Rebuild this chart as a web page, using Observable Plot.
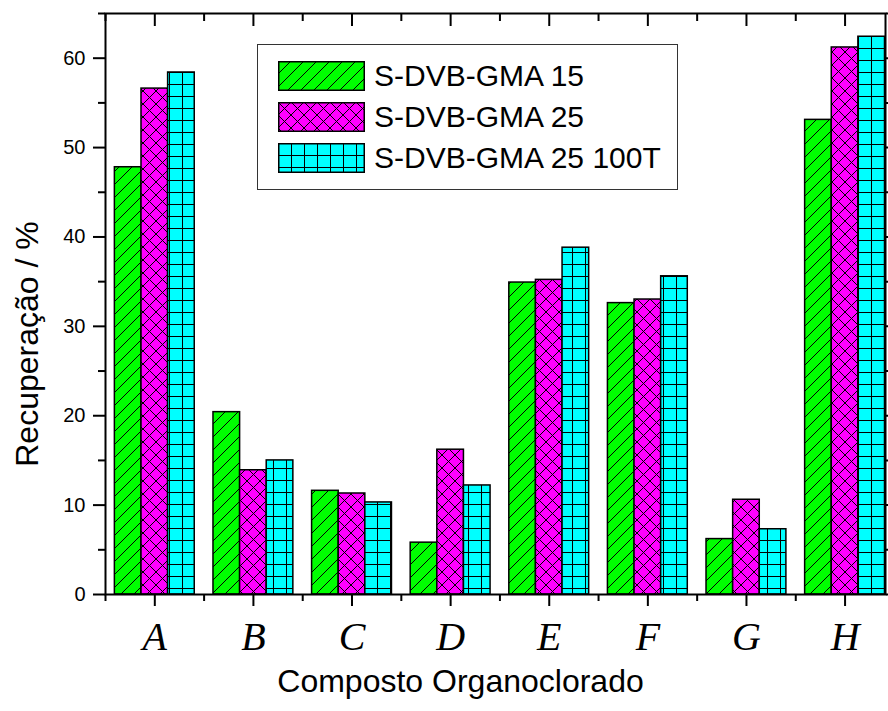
<!DOCTYPE html>
<html><head><meta charset="utf-8">
<script src="https://cdn.jsdelivr.net/npm/d3@7"></script>
<script src="https://cdn.jsdelivr.net/npm/@observablehq/plot@0.6"></script>
<style>
body{margin:0;background:#fff;overflow:hidden;}
#wrap{position:relative;width:888px;height:711px;overflow:hidden;}
#legend{position:absolute;left:257px;top:44px;border:1.5px solid #333;background:#fff;padding:10px 16px 11px 20px;font-family:"Liberation Sans",Arial,sans-serif;font-size:30px;color:#000;}
.row{display:flex;align-items:center;height:41px;white-space:nowrap;}
.row svg{margin-right:9px;display:block;}
</style></head>
<body>
<svg width="0" height="0" style="position:absolute">
<defs>
<pattern id="pGreen" patternUnits="userSpaceOnUse" width="13" height="13">
<rect width="13" height="13" fill="#00ff00"/>
<path d="M0,13 L13,0 M-3,3 L3,-3 M10,16 L16,10" stroke="#000" stroke-width="1"/>
</pattern>
<pattern id="pMagenta" patternUnits="userSpaceOnUse" width="13" height="13">
<rect width="13" height="13" fill="#ff00ff"/>
<path d="M0,0 L13,13 M13,0 L0,13" stroke="#000" stroke-width="1"/>
</pattern>
<pattern id="pCyan" patternUnits="userSpaceOnUse" width="13" height="12">
<rect width="13" height="12" fill="#00ffff"/>
<path d="M0,0.5 H13 M0.5,0 V12" stroke="#000" stroke-width="1"/>
</pattern>
</defs>
</svg>
<div id="wrap"></div>
<script>
const categories = ["A","B","C","D","E","F","G","H"];
const series = ["S-DVB-GMA 15","S-DVB-GMA 25","S-DVB-GMA 25 100T"];
const gma15 = [47.8, 20.4, 11.6, 5.8, 34.9, 32.6, 6.2, 53.1];
const gma25 = [56.6, 13.9, 11.3, 16.2, 35.2, 33.0, 10.6, 61.2];
const gma25_100T = [58.4, 15.0, 10.3, 12.2, 38.8, 35.6, 7.3, 62.4];
const yTicks = [0, 10, 20, 30, 40, 50, 60];
const yMinor = [5, 15, 25, 35, 45, 55, 65];

const values = [gma15, gma25, gma25_100T];
const patterns = ["url(#pGreen)", "url(#pMagenta)", "url(#pCyan)"];
const barW = 0.27;
const rowsFor = (j) => categories.map((c, i) => ({
  cat: c, pos: i + 1, value: values[j][i],
  x1: i + 1 - 1.5 * barW + j * barW, x2: i + 1 - 0.5 * barW + j * barW
}));
const catPos = categories.map((c, i) => i + 1);
const catBounds = categories.map((c, i) => i + 0.5);

const chart = Plot.plot({
  width: 888, height: 711,
  marginLeft: 105, marginRight: 3, marginTop: 13, marginBottom: 117,
  style: {fontFamily: "'Liberation Sans', Arial, sans-serif", background: "white", color: "black", overflow: "visible"},
  x: {domain: [0.5, 8.41], axis: null},
  y: {domain: [0, 65], axis: null},
  marks: [
    ...series.map((s, j) => Plot.rectY(rowsFor(j), {x1: "x1", x2: "x2", y1: 0, y2: "value", fill: patterns[j], stroke: "black", strokeWidth: 1.5})),
    Plot.axisY({ticks: yTicks, tickSize: 12, tickPadding: 8, fontSize: 20, strokeWidth: 2, label: null}),
    Plot.axisY({ticks: yMinor, tickSize: 7, tickFormat: () => "", strokeWidth: 2, label: null}),
    Plot.axisY({anchor: "right", ticks: yTicks, tickSize: 12, tickFormat: () => "", strokeWidth: 2, label: null}),
    Plot.axisY({anchor: "right", ticks: yMinor, tickSize: 7, tickFormat: () => "", strokeWidth: 2, label: null}),
    Plot.axisX({ticks: catPos, tickSize: 12, tickPadding: 15, strokeWidth: 2, label: null,
      tickFormat: d => categories[d - 1], fontSize: 40, fontFamily: "'Liberation Serif', 'DejaVu Serif', serif", fontStyle: "italic"}),
    Plot.axisX({ticks: catBounds, tickSize: 7, tickFormat: () => "", strokeWidth: 2, label: null}),
    Plot.axisX({anchor: "top", ticks: catPos, tickSize: -12, tickFormat: () => "", strokeWidth: 2, label: null}),
    Plot.axisX({anchor: "top", ticks: catBounds, tickSize: -7, tickFormat: () => "", strokeWidth: 2, label: null}),
    Plot.frame({stroke: "black", strokeWidth: 2}),
    Plot.text(["Composto Organoclorado"], {frameAnchor: "bottom", lineAnchor: "middle", dy: 87, dx: -35, fontSize: 32, fill: "black"}),
    Plot.text(["Recuperação / %"], {frameAnchor: "left", textAnchor: "middle", dx: -78, dy: 40, rotate: -90, fontSize: 32, fill: "black"})
  ]
});
const wrap = document.getElementById("wrap");
wrap.appendChild(chart);

const legend = document.createElement("div");
legend.id = "legend";
series.forEach((s, j) => {
  const row = document.createElement("div");
  row.className = "row";
  row.innerHTML = `<svg width="87" height="30"><rect x="0.75" y="0.75" width="85.5" height="28.5" fill="${patterns[j]}" stroke="#000" stroke-width="1.5"/></svg><span>${s}</span>`;
  legend.appendChild(row);
});
wrap.appendChild(legend);
</script>
</body></html>
